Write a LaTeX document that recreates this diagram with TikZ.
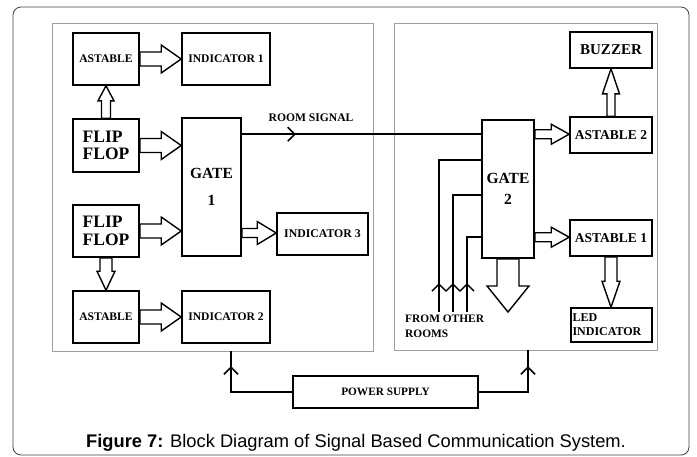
\documentclass[tikz,border=0pt]{standalone}
\usepackage{fontspec}
\setmainfont{Liberation Serif}
\newfontfamily\capfont{Liberation Sans}
\usetikzlibrary{arrows.meta,calc,decorations.markings}

\tikzset{
  blk/.style={draw, line width=1.6pt, inner sep=1pt, align=center, font=\bfseries},
  wire/.style={line width=1.5pt},
  fat/.style={draw, line width=1.4pt, fill=white, line join=miter},
  panel/.style={draw=gray!75, line width=0.9pt},
  midtip/.style={postaction={decorate}, decoration={markings,
      mark=at position #1 with {\arrow{Straight Barb[length=7pt,width=14pt,line width=1.5pt]}}}}
}
\newcommand{\fs}[1]{\fontsize{#1}{#1}\selectfont}
% hollow block arrows: from, to, shaft half width, head half width, head length
\newcommand{\rfat}[5]{\path[fat] let \p1=(#1), \p2=(#2) in
  (\x1,\y1+#3) -- (\x2-#5,\y1+#3) -- (\x2-#5,\y1+#4) -- (\x2,\y1) --
  (\x2-#5,\y1-#4) -- (\x2-#5,\y1-#3) -- (\x1,\y1-#3) -- cycle;}
\newcommand{\ufat}[5]{\path[fat] let \p1=(#1), \p2=(#2) in
  (\x1-#3,\y1) -- (\x1-#3,\y2-#5) -- (\x1-#4,\y2-#5) -- (\x1,\y2) --
  (\x1+#4,\y2-#5) -- (\x1+#3,\y2-#5) -- (\x1+#3,\y1) -- cycle;}
\newcommand{\dfat}[5]{\path[fat] let \p1=(#1), \p2=(#2) in
  (\x1-#3,\y1) -- (\x1-#3,\y2+#5) -- (\x1-#4,\y2+#5) -- (\x1,\y2) --
  (\x1+#4,\y2+#5) -- (\x1+#3,\y2+#5) -- (\x1+#3,\y1) -- cycle;}

\begin{document}
\begin{tikzpicture}[x=1pt, y=-1pt]
    \useasboundingbox (0,0) rectangle (697,456);
    \draw[gray!50!black, line width=0.8pt, rounded corners=8pt] (13,7) rectangle (689,455);
    \draw[panel] (52,23) rectangle (373,351);
    \draw[panel] (394,23) rectangle (657,350);

    % room unit
    \node[blk, minimum width=66pt, minimum height=52pt, font=\bfseries\fs{11.6}] (ast1) at (106,59) {ASTABLE};
    \node[blk, minimum width=88pt, minimum height=52pt, font=\bfseries\fs{11.6}] (ind1) at (226,59) {INDICATOR 1};
    \node[blk, minimum width=66pt, minimum height=53pt, align=left, font=\bfseries\fs{17.5}] (ff1) at (106,145.5) {FLIP\\FLOP};
    \node[blk, minimum width=59pt, minimum height=138pt, font=\bfseries\fs{15.5}] (gate1) at (211.5,187) {GATE\\[12pt]1};
    \node[blk, minimum width=66pt, minimum height=52pt, align=left, font=\bfseries\fs{17.5}] (ff2) at (106,231) {FLIP\\FLOP};
    \node[blk, minimum width=91pt, minimum height=42pt, font=\bfseries\fs{11.8}] (ind3) at (322.5,234) {INDICATOR 3};
    \node[blk, minimum width=66pt, minimum height=52pt, font=\bfseries\fs{11.6}] (ast3) at (106,317) {ASTABLE};
    \node[blk, minimum width=88pt, minimum height=52pt, font=\bfseries\fs{11.6}] (ind2) at (226,317) {INDICATOR 2};

    \rfat{ast1.east}{ind1.west}{7pt}{14pt}{20pt}
    \rfat{ff1.east}{gate1.west}{7pt}{14pt}{20pt}
    \rfat{ff2.east}{gate1.west}{7pt}{14pt}{20pt}
    \rfat{ast3.east}{ind2.west}{7pt}{14pt}{20pt}
    \rfat{[yshift=-46pt]gate1.east}{ind3.west}{4.5pt}{11.5pt}{19pt}
    \ufat{ff1.north}{ast1.south}{4.5pt}{8pt}{15pt}
    \dfat{ff2.south}{ast3.north}{6pt}{9pt}{19pt}

    \node[font=\bfseries\fs{11.6}] (rs) at (311,118) {ROOM SIGNAL};

    % central unit
    \node[blk, minimum width=82pt, minimum height=36pt, font=\bfseries\fs{15}] (buzz) at (611,50) {BUZZER};
    \node[blk, minimum width=82pt, minimum height=36pt, font=\bfseries\fs{13.5}] (ast2) at (611,135) {ASTABLE 2};
    \node[blk, minimum width=52pt, minimum height=138pt, font=\bfseries\fs{15.5}] (gate2) at (508,189) {GATE\\[6pt]2};
    \node[blk, minimum width=82pt, minimum height=36pt, font=\bfseries\fs{13.5}] (ast4) at (611,238) {ASTABLE 1};
    \node[blk, minimum width=81pt, minimum height=34pt, text width=78pt, align=left, inner sep=1.5pt, font=\bfseries\fs{12}] (led) at (611.5,325) {LED\\[2pt]INDICATOR};

    \draw[wire, midtip=54pt] ([yshift=-17pt]gate1.north east) -- ([yshift=-15pt]gate2.north west);

    \coordinate (r1) at (439,312);
    \coordinate (r2) at (453,312);
    \coordinate (r3) at (467,312);
    \draw[wire, midtip=29pt] (r1) |- ([yshift=-41pt]gate2.north west);
    \draw[wire, midtip=29pt] (r2) |- ([yshift=-76pt]gate2.north west);
    \draw[wire, midtip=29pt] (r3) |- ([yshift=-118pt]gate2.north west);
    \node[anchor=north west, inner sep=0, align=left, font=\bfseries\fs{11.4}] (from) at (405,315) {FROM OTHER\\[3pt]ROOMS};

    \rfat{[yshift=-15pt]gate2.north east}{ast2.west}{4.5pt}{10pt}{18pt}
    \rfat{[yshift=-118pt]gate2.north east}{ast4.west}{4.5pt}{10pt}{18pt}
    \ufat{ast2.north}{buzz.south}{4pt}{8.5pt}{25pt}
    \dfat{ast4.south}{led.north}{6pt}{9pt}{26pt}
    \coordinate (gout) at (508,312);
    \dfat{gate2.south}{gout}{11pt}{21pt}{26pt}

    % supply
    \node[blk, minimum width=185pt, minimum height=32pt, font=\bfseries\fs{11.3}] (ps) at (385.5,392) {POWER SUPPLY};
    \coordinate (pl) at (231,351);
    \coordinate (pr) at (528,350);
    \draw[wire, midtip=87pt] (ps.west) -| (pl);
    \draw[wire, midtip=75pt] (ps.east) -| (pr);

    \node[font=\capfont\fs{18.3}] (cap) at (356,443) {\textbf{Figure 7:} Block Diagram of Signal Based Communication System.};
\end{tikzpicture}
\end{document}
